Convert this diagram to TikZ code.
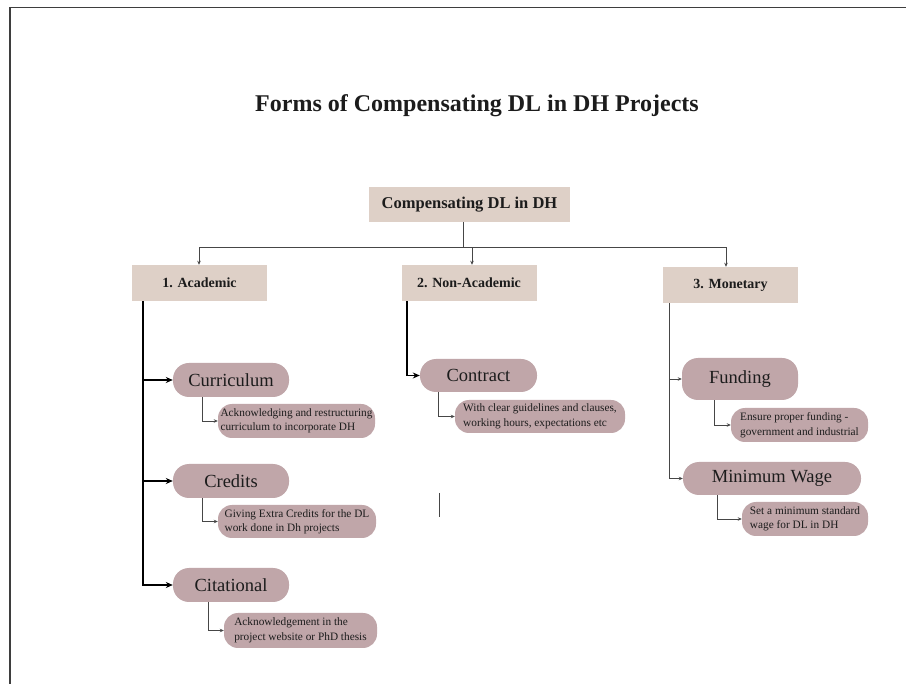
\documentclass[tikz,border=0pt]{standalone}
\usepackage{fontspec}
\setmainfont{Liberation Serif}
\usetikzlibrary{arrows.meta,calc}
\definecolor{beige}{RGB}{222,208,199}
\definecolor{mauve}{RGB}{192,166,169}
\definecolor{ink}{RGB}{28,28,28}
\definecolor{lineg}{RGB}{70,70,70}
\begin{document}
\begin{tikzpicture}[x=1pt,y=-1pt,
  catbox/.style={fill=beige, draw=none, text=ink, inner sep=0pt, font=\bfseries\fontsize{14}{16}\selectfont, minimum width=135pt, minimum height=36pt},
  rootbox/.style={catbox, font=\bfseries\fontsize{16.5}{18}\selectfont, minimum width=201pt, minimum height=35pt},
  pill/.style={fill=mauve, draw=none, text=ink, rounded corners=16pt, inner sep=0pt, font=\fontsize{18.5}{20}\selectfont},
  subpill/.style={fill=mauve, draw=none, text=ink, rounded corners=14pt, inner sep=0pt, align=left, font=\fontsize{11.3}{14.5}\selectfont},
  conn/.style={draw=lineg, line width=0.9pt},
  tarrow/.style={conn, -{Stealth[length=4pt,width=3.5pt]}},
  thickline/.style={draw=black, line width=1.8pt},
  thickarrow/.style={thickline, -{Stealth[length=7pt,width=6pt]}}
]
\useasboundingbox (0,0) rectangle (906,684);
\fill[white] (0,0) rectangle (906,684);
% frame
\coordinate (fa) at (10,684);
\coordinate (fb) at (10,7.5);
\coordinate (fc) at (906,7.5);
\draw[draw=ink!85, line width=1.5pt] (fa) -- (fb) -- (fc);

% title
\node[text=ink, font=\bfseries\fontsize{24}{28}\selectfont] (title) at (477,106) {Forms of Compensating DL in DH Projects};

% root and categories
\node[rootbox] (root) at (469.5,204.5) {Compensating DL in DH};
\node[catbox] (acad) at (199.5,283) {1. Academic};
\node[catbox] (nonacad) at (469,283) {2. Non-Academic};
\node[catbox] (monet) at (730.5,285) {3. Monetary};

\coordinate (bus) at (463,247);
\draw[conn] (root.south -| bus) -- (bus);
\draw[tarrow] (bus) -| ([xshift=-0.5pt]acad.north);
\draw[tarrow] (bus) -| ([xshift=3pt]nonacad.north);
\draw[tarrow] (bus) -| ([xshift=-4.5pt]monet.north);

% academic branch
\node[pill, minimum width=116pt, minimum height=34pt] (curr) at (231,380) {Curriculum};
\node[pill, minimum width=116pt, minimum height=34pt] (cred) at (231,481) {Credits};
\node[pill, minimum width=116pt, minimum height=34pt] (cit) at (231,585) {Citational};
\node[subpill, minimum width=157pt, minimum height=34pt] (currs) at (296.5,421) {Acknowledging and restructuring\\curriculum to incorporate DH};
\node[subpill, minimum width=158pt, minimum height=33pt] (creds) at (297,521.5) {Giving Extra Credits for the DL\\work done in Dh projects};
\node[subpill, minimum width=153pt, minimum height=35pt] (cits) at (300.5,630.5) {Acknowledgement in the\\project website or PhD thesis};

\coordinate (atop) at ([xshift=-56.5pt]acad.south);
\coordinate (abot) at ($(atop |- cit.west)+(0,1)$);
\draw[thickline] (atop) -- (abot);
\draw[thickarrow] (atop |- curr.west) -- (curr.west);
\draw[thickarrow] (atop |- cred.west) -- (cred.west);
\draw[thickarrow] (atop |- cit.west) -- (cit.west);

\draw[tarrow] ([xshift=-29pt]curr.south) |- (currs.west);
\draw[tarrow] ([xshift=-29pt]cred.south) |- (creds.west);
\draw[tarrow] ([xshift=-23pt]cit.south) |- (cits.west);

% non-academic branch
\node[pill, minimum width=117pt, minimum height=33pt] (contr) at (478.5,375.5) {Contract};
\node[subpill, minimum width=170pt, minimum height=33pt] (contrs) at (540,416.5) {With clear guidelines and clauses,\\working hours, expectations etc};
\draw[thickarrow] ([xshift=-62pt]nonacad.south) |- (contr.west);
\draw[tarrow] ([xshift=-40.5pt]contr.south) |- (contrs.west);
\coordinate (stray1) at (439,493);
\coordinate (stray2) at (439,517);
\draw[conn] (stray1) -- (stray2);

% monetary branch
\node[pill, minimum width=116pt, minimum height=42pt] (fund) at (740,379) {Funding};
\node[pill, minimum width=178pt, minimum height=33pt] (minw) at (772,478.5) {Minimum Wage};
\node[subpill, minimum width=137pt, minimum height=34pt] (funds) at (799.5,425) {Ensure proper funding -\\government and industrial};
\node[subpill, minimum width=126pt, minimum height=34pt] (minws) at (805,519) {Set a minimum standard\\wage for DL in DH};

\coordinate (mtop) at ([xshift=-61.5pt]monet.south);
\draw[conn] (mtop) -- (mtop |- minw.west);
\draw[tarrow] (mtop |- fund.west) -- (fund.west);
\draw[tarrow] (mtop |- minw.west) -- (minw.west);
\draw[tarrow] ([xshift=-26pt]fund.south) |- (funds.west);
\draw[tarrow] ([xshift=-55pt]minw.south) |- (minws.west);
\end{tikzpicture}
\end{document}
